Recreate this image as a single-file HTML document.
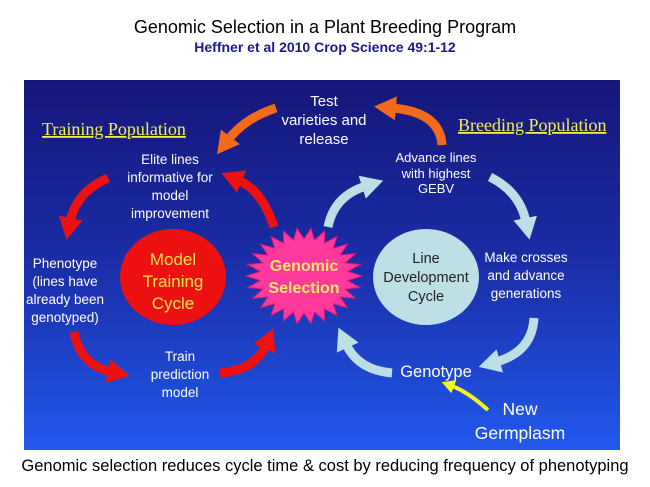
<!DOCTYPE html>
<html><head><meta charset="utf-8"><style>
html,body{margin:0;padding:0;background:#fff;width:650px;height:487px;overflow:hidden}
svg{display:block}
</style></head><body>
<svg width="650" height="487" viewBox="0 0 650 487" xmlns="http://www.w3.org/2000/svg" font-family="Liberation Sans, Arial, sans-serif">
<defs>
<linearGradient id="bg" x1="0" y1="0" x2="0" y2="1">
<stop offset="0" stop-color="#16167a"/>
<stop offset="0.5" stop-color="#1a2ea8"/>
<stop offset="1" stop-color="#2258ec"/>
</linearGradient>
<marker id="mr" markerUnits="userSpaceOnUse" markerWidth="30" markerHeight="30" refX="4" refY="12" orient="auto"><path d="M0,0 L22,12 L0,24 Z" fill="#ee1111"/></marker>
<marker id="mo" markerUnits="userSpaceOnUse" markerWidth="30" markerHeight="30" refX="4" refY="12" orient="auto"><path d="M0,0 L22,12 L0,24 Z" fill="#f26a1b"/></marker>
<marker id="mb" markerUnits="userSpaceOnUse" markerWidth="30" markerHeight="30" refX="4" refY="12" orient="auto"><path d="M0,0 L22,12 L0,24 Z" fill="#bcdfe6"/></marker>
<marker id="my" markerUnits="userSpaceOnUse" markerWidth="20" markerHeight="20" refX="2" refY="7" orient="auto"><path d="M0,0 L13,7 L0,14 Z" fill="#f5f51a"/></marker>
</defs>
<text x="325" y="33" text-anchor="middle" font-size="18" fill="#000">Genomic Selection in a Plant Breeding Program</text>
<text x="325" y="52" text-anchor="middle" font-size="14" font-weight="bold" fill="#1a1a8a">Heffner et al 2010 Crop Science 49:1-12</text>
<rect x="24" y="80" width="596" height="370" fill="url(#bg)"/>

<text x="42" y="135" font-family="Liberation Serif, serif" font-size="18" fill="#f4f04a" text-decoration="underline">Training Population</text>
<text x="458" y="131" font-family="Liberation Serif, serif" font-size="18" fill="#f4f04a" text-decoration="underline">Breeding Population</text>

<g fill="none" stroke-width="9" stroke-linecap="butt">
<path d="M108,178 Q76,192 70,222" stroke="#ee1111" marker-end="url(#mr)"/>
<path d="M274,227 Q262,190 238,180" stroke="#ee1111" marker-end="url(#mr)"/>
<path d="M74,332 Q80,365 112,372" stroke="#ee1111" marker-end="url(#mr)"/>
<path d="M220,373 Q255,370 266,345" stroke="#ee1111" marker-end="url(#mr)"/>
<path d="M276,108 Q245,118 228,140" stroke="#f26a1b" marker-end="url(#mo)"/>
<path d="M442,145 Q440,112 392,108" stroke="#f26a1b" marker-end="url(#mo)"/>
<path d="M328,227 Q334,196 366,186" stroke="#bcdfe6" marker-end="url(#mb)"/>
<path d="M490,177 Q520,192 526,222" stroke="#bcdfe6" marker-end="url(#mb)"/>
<path d="M534,318 Q532,352 496,362" stroke="#bcdfe6" marker-end="url(#mb)"/>
<path d="M392,373 Q358,370 346,344" stroke="#bcdfe6" marker-end="url(#mb)"/>
<path d="M488,410 Q468,392 452,386" stroke="#f5f51a" stroke-width="4" marker-end="url(#my)"/>
</g>

<ellipse cx="173" cy="277" rx="53" ry="48" fill="#ee1111"/>
<g font-size="17" fill="#f7e24a" text-anchor="middle">
<text x="173" y="265">Model</text><text x="173" y="287">Training</text><text x="173" y="309">Cycle</text>
</g>
<polygon id="star" fill="#ff3a9c" stroke="#d81a78" stroke-width="1" points=""/>
<g font-size="16" font-weight="bold" fill="#f7e86a" text-anchor="middle">
<text x="304" y="271">Genomic</text><text x="304" y="293">Selection</text>
</g>
<ellipse cx="426" cy="277" rx="53" ry="48" fill="#bde0e6"/>
<g font-size="14.5" fill="#222" text-anchor="middle">
<text x="426" y="263">Line</text><text x="426" y="282">Development</text><text x="426" y="301">Cycle</text>
</g>

<g fill="#fff" text-anchor="middle" font-size="13.5">
<text x="324" y="106" font-size="15">Test</text>
<text x="324" y="125" font-size="15">varieties and</text>
<text x="324" y="144" font-size="15">release</text>
<text x="170" y="164">Elite lines</text>
<text x="170" y="182">informative for</text>
<text x="170" y="200">model</text>
<text x="170" y="218">improvement</text>
<text x="65" y="268">Phenotype</text>
<text x="65" y="286">(lines have</text>
<text x="65" y="304">already been</text>
<text x="65" y="322">genotyped)</text>
<text x="180" y="361">Train</text>
<text x="180" y="379">prediction</text>
<text x="180" y="397">model</text>
<text x="436" y="162" font-size="13">Advance lines</text>
<text x="436" y="178" font-size="13">with highest</text>
<text x="436" y="193" font-size="13">GEBV</text>
<text x="526" y="262">Make crosses</text>
<text x="526" y="280">and advance</text>
<text x="526" y="298">generations</text>
<text x="436" y="377" font-size="16.5">Genotype</text>
<text x="520" y="415" font-size="17.5">New</text>
<text x="520" y="439" font-size="17.5">Germplasm</text>
</g>
<text x="325" y="471" text-anchor="middle" font-size="16.5" fill="#000">Genomic selection reduces cycle time &amp; cost by reducing frequency of phenotyping</text>
</svg>
<script>
var p=[],n=26,cx=304,cy=276;
for(var i=0;i<2*n;i++){var a=Math.PI*i/n,rx=i%2?44:58,ry=i%2?37:48;p.push((cx+rx*Math.cos(a)).toFixed(1)+","+(cy+ry*Math.sin(a)).toFixed(1));}
document.getElementById("star").setAttribute("points",p.join(" "));
</script>
</body></html>
